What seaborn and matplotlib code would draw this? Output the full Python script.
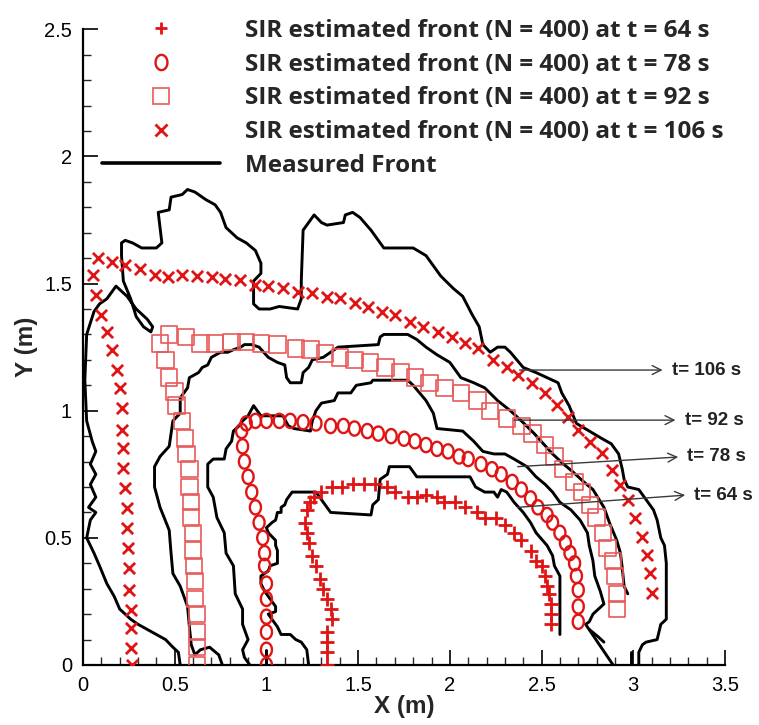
import numpy as np
import pandas as pd
import matplotlib
matplotlib.use("Agg")
import matplotlib.pyplot as plt
from matplotlib.lines import Line2D
from matplotlib.ticker import MultipleLocator, FuncFormatter
import seaborn as sns

# ---------------- SIR estimated fronts (N = 400) ----------------
sir64_x = [1.33, 1.33, 1.33, 1.33, 1.36, 1.35, 1.33, 1.31, 1.29, 1.27, 1.25, 1.23, 1.22, 1.21, 1.22, 1.24,
           1.26, 1.30, 1.36, 1.41, 1.47, 1.53, 1.59, 1.66, 1.70, 1.77, 1.82, 1.87, 1.93, 1.97, 2.03, 2.08,
           2.15, 2.19, 2.25, 2.30, 2.35, 2.39, 2.44, 2.47, 2.50, 2.52, 2.53, 2.54, 2.55, 2.55, 2.55]
sir64_y = [0.00, 0.05, 0.09, 0.13, 0.18, 0.22, 0.26, 0.30, 0.34, 0.39, 0.43, 0.48, 0.52, 0.56, 0.61, 0.64,
           0.66, 0.68, 0.70, 0.70, 0.71, 0.71, 0.71, 0.70, 0.68, 0.66, 0.66, 0.67, 0.66, 0.64, 0.64, 0.62,
           0.60, 0.58, 0.58, 0.55, 0.52, 0.49, 0.45, 0.41, 0.39, 0.35, 0.31, 0.28, 0.24, 0.20, 0.16]

sir78_x = [1.00, 1.00, 1.00, 1.00, 1.00, 1.00, 0.99, 0.99, 0.98, 0.96, 0.94, 0.92, 0.90, 0.88, 0.87, 0.865,
           0.89, 0.94, 1.00, 1.07, 1.13, 1.20, 1.27, 1.35, 1.42, 1.48, 1.55, 1.61, 1.68, 1.75, 1.81, 1.87,
           1.93, 1.99, 2.05, 2.10, 2.17, 2.23, 2.28, 2.34, 2.39, 2.44, 2.48, 2.53, 2.56, 2.60, 2.63, 2.655,
           2.68, 2.69, 2.70, 2.70, 2.70]
sir78_y = [0.00, 0.06, 0.13, 0.19, 0.26, 0.32, 0.39, 0.44, 0.50, 0.56, 0.62, 0.68, 0.74, 0.80, 0.86, 0.92,
           0.95, 0.96, 0.96, 0.96, 0.96, 0.955, 0.95, 0.94, 0.94, 0.93, 0.92, 0.91, 0.90, 0.89, 0.88, 0.865,
           0.85, 0.84, 0.82, 0.81, 0.79, 0.77, 0.75, 0.72, 0.69, 0.655, 0.62, 0.59, 0.56, 0.52, 0.48, 0.44,
           0.40, 0.35, 0.295, 0.23, 0.17]

sir92_x = [0.62, 0.62, 0.62, 0.62, 0.61, 0.61, 0.605, 0.60, 0.60, 0.59, 0.59, 0.58, 0.58, 0.565, 0.555, 0.54,
           0.51, 0.50, 0.47, 0.45, 0.42, 0.47, 0.56, 0.64, 0.72, 0.81, 0.89, 0.97, 1.06, 1.16, 1.24, 1.32,
           1.40, 1.48, 1.565, 1.65, 1.73, 1.81, 1.89, 1.97, 2.06, 2.15, 2.22, 2.31, 2.39, 2.45, 2.52, 2.57,
           2.62, 2.68, 2.72, 2.765, 2.80, 2.835, 2.86, 2.89, 2.90, 2.91, 2.91]
sir92_y = [0.00, 0.07, 0.13, 0.20, 0.26, 0.33, 0.39, 0.45, 0.52, 0.58, 0.64, 0.70, 0.77, 0.83, 0.89, 0.96,
           1.02, 1.075, 1.13, 1.20, 1.265, 1.30, 1.29, 1.265, 1.265, 1.27, 1.27, 1.265, 1.26, 1.245, 1.24, 1.225,
           1.21, 1.20, 1.19, 1.17, 1.15, 1.13, 1.11, 1.09, 1.07, 1.04, 1.00, 0.97, 0.94, 0.91, 0.865, 0.82,
           0.77, 0.72, 0.68, 0.63, 0.58, 0.52, 0.46, 0.41, 0.35, 0.28, 0.22]

sir106_x = [0.266, 0.26, 0.26, 0.26, 0.252, 0.252, 0.247, 0.242, 0.238, 0.229, 0.22, 0.216, 0.211, 0.211,
            0.202, 0.184, 0.157, 0.129, 0.097, 0.071, 0.056, 0.083, 0.157, 0.229, 0.311, 0.393, 0.465, 0.538,
            0.62, 0.702, 0.774, 0.856, 0.938, 1.01, 1.092, 1.174, 1.247, 1.329, 1.401, 1.483, 1.556, 1.629,
            1.701, 1.783, 1.856, 1.937, 2.011, 2.083, 2.156, 2.237, 2.31, 2.374, 2.447, 2.519, 2.583, 2.646,
            2.701, 2.765, 2.828, 2.883, 2.928, 2.973, 3.01, 3.047, 3.074, 3.092, 3.101]
sir106_y = [0.00, 0.067, 0.145, 0.216, 0.295, 0.381, 0.46, 0.539, 0.617, 0.696, 0.775, 0.853, 0.924, 1.011,
            1.089, 1.16, 1.239, 1.311, 1.376, 1.455, 1.533, 1.599, 1.586, 1.573, 1.556, 1.533, 1.527, 1.533,
            1.53, 1.527, 1.517, 1.514, 1.494, 1.49, 1.481, 1.468, 1.462, 1.448, 1.442, 1.422, 1.409, 1.389,
            1.376, 1.35, 1.33, 1.311, 1.291, 1.265, 1.245, 1.199, 1.173, 1.14, 1.108, 1.068, 1.022, 0.976,
            0.924, 0.878, 0.832, 0.767, 0.708, 0.649, 0.577, 0.504, 0.432, 0.361, 0.282]

# ---------------- Measured fronts (black contours) ----------------
meas106 = [(0.53, 0.00), (0.52, 0.05), (0.49, 0.07), (0.45, 0.10), (0.40, 0.12), (0.35, 0.14), (0.30, 0.16),
           (0.26, 0.18), (0.20, 0.22), (0.17, 0.27), (0.13, 0.32), (0.09, 0.39), (0.06, 0.44), (0.02, 0.50),
           (0.04, 0.57), (0.07, 0.60), (0.03, 0.62), (0.07, 0.66), (0.04, 0.71), (0.07, 0.75), (0.04, 0.79),
           (0.07, 0.84), (0.05, 0.88), (0.02, 0.96), (0.01, 1.12), (0.02, 1.30), (0.06, 1.39), (0.09, 1.42),
           (0.13, 1.44), (0.17, 1.48), (0.18, 1.49), (0.24, 1.45), (0.29, 1.40), (0.35, 1.36), (0.38, 1.33),
           (0.37, 1.31), (0.33, 1.33), (0.29, 1.37), (0.26, 1.44), (0.22, 1.51), (0.21, 1.61), (0.21, 1.66),
           (0.23, 1.67), (0.27, 1.66), (0.32, 1.64), (0.40, 1.64), (0.43, 1.66), (0.41, 1.78), (0.47, 1.79),
           (0.48, 1.84), (0.54, 1.85), (0.57, 1.87), (0.61, 1.86), (0.67, 1.83), (0.72, 1.81), (0.75, 1.78),
           (0.78, 1.72), (0.84, 1.68), (0.89, 1.66), (0.94, 1.63), (0.97, 1.58), (0.97, 1.54), (0.93, 1.51),
           (0.93, 1.42), (0.96, 1.40), (1.02, 1.40), (1.07, 1.41), (1.17, 1.40), (1.19, 1.44), (1.19, 1.51),
           (1.20, 1.71), (1.26, 1.77), (1.30, 1.74), (1.33, 1.73), (1.42, 1.74), (1.43, 1.77), (1.47, 1.78),
           (1.51, 1.76), (1.57, 1.71), (1.64, 1.64), (1.80, 1.64), (1.87, 1.61), (1.95, 1.53), (2.02, 1.48),
           (2.07, 1.45), (2.12, 1.38), (2.16, 1.33), (2.18, 1.26), (2.22, 1.23), (2.26, 1.25), (2.30, 1.25),
           (2.33, 1.23), (2.40, 1.17), (2.47, 1.15), (2.53, 1.13), (2.59, 1.11), (2.61, 1.07), (2.65, 1.02),
           (2.69, 0.95), (2.76, 0.92), (2.83, 0.89), (2.88, 0.87), (2.92, 0.83), (2.94, 0.77), (2.95, 0.73),
           (2.97, 0.70), (3.03, 0.69), (3.07, 0.65), (3.11, 0.61), (3.13, 0.57), (3.15, 0.50), (3.17, 0.47),
           (3.18, 0.40), (3.18, 0.18), (3.15, 0.16), (3.13, 0.10), (3.07, 0.09), (3.05, 0.08), (3.03, 0.05),
           (3.03, 0.00)]

meas92 = [(0.76, 0.00), (0.74, 0.04), (0.69, 0.07), (0.64, 0.06), (0.61, 0.04), (0.59, 0.08), (0.58, 0.15),
          (0.57, 0.23), (0.53, 0.31), (0.49, 0.36), (0.48, 0.44), (0.47, 0.53), (0.42, 0.62), (0.39, 0.70),
          (0.39, 0.78), (0.42, 0.82), (0.47, 0.86), (0.49, 0.96), (0.53, 0.99), (0.53, 1.05), (0.57, 1.09),
          (0.58, 1.13), (0.63, 1.15), (0.65, 1.17), (0.68, 1.18), (0.70, 1.21), (0.75, 1.23), (0.79, 1.23),
          (0.82, 1.24), (0.86, 1.25), (0.88, 1.26), (0.92, 1.26), (0.96, 1.25), (1.01, 1.21), (1.06, 1.19),
          (1.10, 1.18), (1.11, 1.13), (1.13, 1.11), (1.19, 1.11), (1.20, 1.15), (1.23, 1.17), (1.25, 1.20),
          (1.31, 1.21), (1.39, 1.25), (1.61, 1.26), (1.62, 1.29), (1.64, 1.30), (1.77, 1.30), (1.82, 1.28),
          (1.87, 1.25), (1.93, 1.22), (2.00, 1.19), (2.06, 1.13), (2.13, 1.11), (2.19, 1.09), (2.26, 1.04),
          (2.33, 1.00), (2.39, 0.96), (2.46, 0.91), (2.51, 0.87), (2.56, 0.83), (2.62, 0.79), (2.67, 0.76),
          (2.73, 0.72), (2.78, 0.69), (2.84, 0.62), (2.87, 0.56), (2.91, 0.49), (2.93, 0.44), (2.94, 0.38),
          (2.95, 0.31), (2.97, 0.28)]

meas78 = [(0.91, 0.00), (0.88, 0.03), (0.87, 0.06), (0.90, 0.10), (0.87, 0.16), (0.87, 0.22), (0.83, 0.28),
          (0.82, 0.39), (0.78, 0.44), (0.77, 0.52), (0.73, 0.58), (0.71, 0.66), (0.68, 0.70), (0.68, 0.79),
          (0.71, 0.81), (0.77, 0.81), (0.78, 0.85), (0.81, 0.88), (0.82, 0.92), (0.85, 0.94), (0.87, 0.96),
          (0.90, 0.98), (0.93, 1.02), (0.97, 0.98), (1.09, 0.98), (1.12, 0.94), (1.15, 0.93), (1.24, 0.92),
          (1.25, 0.96), (1.27, 1.00), (1.30, 1.03), (1.37, 1.04), (1.39, 1.07), (1.46, 1.07), (1.49, 1.10),
          (1.57, 1.11), (1.58, 1.12), (1.77, 1.12), (1.80, 1.10), (1.87, 1.04), (1.91, 0.99), (1.93, 0.93),
          (2.07, 0.92), (2.13, 0.88), (2.18, 0.84), (2.24, 0.83), (2.30, 0.83), (2.35, 0.81), (2.42, 0.78),
          (2.47, 0.74), (2.52, 0.71), (2.56, 0.68), (2.60, 0.64), (2.66, 0.61), (2.71, 0.57), (2.75, 0.52),
          (2.76, 0.47), (2.78, 0.41), (2.79, 0.35), (2.82, 0.29), (2.84, 0.24), (2.81, 0.22), (2.78, 0.20),
          (2.76, 0.17), (2.74, 0.16), (2.89, 0.00)]

meas64 = [(1.23, 0.00), (1.22, 0.06), (1.19, 0.09), (1.16, 0.10), (1.13, 0.12), (1.08, 0.12), (1.06, 0.15),
          (1.03, 0.18), (1.01, 0.20), (1.05, 0.21), (1.05, 0.23), (1.02, 0.26), (0.99, 0.29), (0.97, 0.32),
          (0.97, 0.35), (1.01, 0.37), (1.02, 0.39), (1.06, 0.40), (1.06, 0.45), (1.05, 0.47), (1.05, 0.49),
          (1.01, 0.52), (1.00, 0.54), (1.03, 0.56), (1.05, 0.57), (1.06, 0.60), (1.08, 0.60), (1.08, 0.62),
          (1.10, 0.63), (1.11, 0.65), (1.14, 0.68), (1.27, 0.68), (1.31, 0.64), (1.35, 0.60), (1.57, 0.59),
          (1.58, 0.63), (1.61, 0.65), (1.62, 0.73), (1.66, 0.75), (1.67, 0.78), (1.78, 0.78), (1.82, 0.74),
          (2.11, 0.74), (2.14, 0.70), (2.19, 0.68), (2.24, 0.68), (2.26, 0.66), (2.28, 0.69), (2.31, 0.68),
          (2.35, 0.64), (2.40, 0.60), (2.44, 0.56), (2.47, 0.52), (2.53, 0.47), (2.56, 0.43), (2.57, 0.39),
          (2.60, 0.35), (2.60, 0.12)]

# short detached contour pieces near the floor
meas_bits = [
    [(1.00, 0.06), (1.00, 0.00)],
    [(2.99, 0.05), (2.99, 0.00)],
    [(2.76, 0.14), (2.81, 0.11), (2.84, 0.09)],
]

# arrow callouts: label, tail (x, y), head (x, y)
callout_labels = ["t= 106 s", "t= 92 s", "t= 78 s", "t= 64 s"]
callout_tail = [(2.38, 1.16), (2.35, 0.963), (2.37, 0.78), (2.37, 0.62)]
callout_head = [(3.16, 1.16), (3.23, 0.963), (3.245, 0.818), (3.283, 0.668)]

legend_labels = ["SIR estimated front (N = 400) at t = 64 s",
                 "SIR estimated front (N = 400) at t = 78 s",
                 "SIR estimated front (N = 400) at t = 92 s",
                 "SIR estimated front (N = 400) at t = 106 s",
                 "Measured Front"]

# ---------------- figure ----------------
sns.set_theme(style="white")
plt.rcParams["font.family"] = ["Liberation Sans", "DejaVu Sans"]

RED = "#e01414"
SQ_RED = "#e85a5a"

fig = plt.figure(figsize=(7.59, 7.25), dpi=100)
ax = fig.add_axes([83 / 759, 60 / 725, 642 / 759, 635.7 / 725])

# measured contours as one long-form table with a segment id
rows = []
for seg_id, seg in enumerate([meas106, meas92, meas78, meas64] + meas_bits):
    for order, (px, py) in enumerate(seg):
        rows.append({"seg": seg_id, "order": order, "x": px, "y": py})
meas_df = pd.DataFrame(rows)
sns.lineplot(data=meas_df, x="x", y="y", units="seg", estimator=None, sort=False,
             color="black", linewidth=2.1, ax=ax, legend=False)

# elliptical outline marker for the t = 78 s front
theta = np.linspace(0, 2 * np.pi, 41)
oval = np.column_stack([0.78 * np.cos(theta), np.sin(theta)])

sns.scatterplot(x=sir64_x, y=sir64_y, marker="+", s=90, color=RED, linewidth=2.0, ax=ax, zorder=3)
sns.scatterplot(x=sir78_x, y=sir78_y, marker=oval, s=105, facecolor="none", edgecolor=RED,
                linewidth=1.7, ax=ax, zorder=3)
sns.scatterplot(x=sir92_x, y=sir92_y, marker="s", s=140, facecolor="none", edgecolor=SQ_RED,
                linewidth=1.2, ax=ax, zorder=3)
sns.scatterplot(x=sir106_x, y=sir106_y, marker="x", s=65, color=RED, linewidth=2.0, ax=ax, zorder=3)

# callout arrows
for lab, (tx, ty), (hx, hy) in zip(callout_labels, callout_tail, callout_head):
    ax.annotate("", xy=(hx, hy), xytext=(tx, ty),
                arrowprops=dict(arrowstyle="->", color="#3a3a3a", lw=1.0,
                                shrinkA=0, shrinkB=0, mutation_scale=16))
    ax.text(hx + 0.05, hy, lab, fontsize=13.5, fontweight="bold", color="#222222",
            va="center", ha="left")

# axes styling
ax.set_xlim(0, 3.5)
ax.set_ylim(0, 2.5)
for side in ["top", "right"]:
    ax.spines[side].set_visible(False)
for side in ["left", "bottom"]:
    ax.spines[side].set_linewidth(1.6)
    ax.spines[side].set_color("black")
ax.xaxis.set_major_locator(MultipleLocator(0.5))
ax.yaxis.set_major_locator(MultipleLocator(0.5))
ax.xaxis.set_minor_locator(MultipleLocator(0.1))
ax.yaxis.set_minor_locator(MultipleLocator(0.1))
fmt = FuncFormatter(lambda v, _: f"{v:g}")
ax.xaxis.set_major_formatter(fmt)
ax.yaxis.set_major_formatter(fmt)
ax.tick_params(which="major", direction="in", length=11, width=1.2, labelsize=14.5,
               colors="black", pad=8, bottom=True, left=True)
ax.tick_params(which="minor", direction="in", length=5.5, width=1.0, bottom=True, left=True)
ax.set_xlabel("X (m)", fontsize=17.5, fontweight="bold", labelpad=0)
ax.set_ylabel("Y (m)", fontsize=17.5, fontweight="bold", labelpad=4)
ax.grid(False)

# legend
handles = [
    Line2D([], [], ls="none", marker="+", markersize=9, mew=2.0, color=RED),
    Line2D([], [], ls="none", marker=oval, markersize=11, mew=1.7, mfc="none", mec=RED),
    Line2D([], [], ls="none", marker="s", markersize=11, mew=1.2, mfc="none", mec=SQ_RED),
    Line2D([], [], ls="none", marker="x", markersize=8, mew=2.0, color=RED),
    Line2D([], [], color="black", lw=2.6),
]
leg = ax.legend(handles, legend_labels, loc="upper left",
                bbox_to_anchor=(102 / 759, 1 - 19 / 725), bbox_transform=fig.transFigure,
                frameon=False, borderpad=0, borderaxespad=0, handlelength=4.85,
                handletextpad=1.05, labelspacing=0.4,
                prop={"family": ["Open Sans", "DejaVu Sans"], "weight": "bold", "size": 17.5})

fig.savefig("out.png", dpi=100)
